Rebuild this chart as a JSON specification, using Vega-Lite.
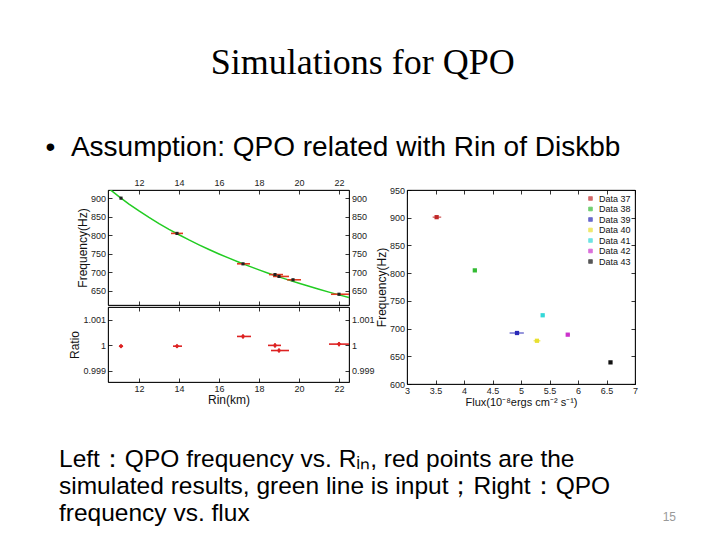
{
  "$schema": "https://vega.github.io/schema/vega-lite/v6.json",
  "background": "white",
  "padding": {"left": 45, "top": 45, "right": 0, "bottom": 0},
  "config": {
    "font": "Liberation Sans",
    "view": {"stroke": "black", "strokeWidth": 0.8},
    "axis": {"grid": false, "domainColor": "black", "domainWidth": 0.8, "tickColor": "black", "tickSize": -4, "tickWidth": 0.8, "labelFontSize": 9, "labelColor": "#222", "labelPadding": 6.5, "titleFontSize": 12, "titleFontWeight": "normal", "titleColor": "#111", "titlePadding": 1, "labelFlush": false, "labelOverlap": false},
    "legend": {"orient": "top-right", "offset": 4, "padding": 0, "labelFontSize": 9, "labelColor": "#111", "symbolSize": 14, "symbolStrokeWidth": 0.8, "rowPadding": 0.5, "title": null, "symbolType": "square"}
  },
  "title": {"text": "Simulations for QPO", "font": "Liberation Serif", "fontSize": 36, "fontWeight": "normal", "color": "black", "anchor": "middle", "offset": 52, "dx": -21},
  "spacing": 39,
  "resolve": {"scale": {"color": "independent"}, "legend": {"color": "independent"}},
  "vconcat": [
    {
      "title": {"text": "•\u00a0\u00a0Assumption: QPO related with Rin of Diskbb", "font": "Liberation Sans", "fontSize": 28, "fontWeight": "normal", "color": "black", "anchor": "start", "dx": -23, "offset": 16},
      "spacing": 0,
      "resolve": {"scale": {"color": "independent"}, "legend": {"color": "independent"}},
      "hconcat": [
        {
          "spacing": 0,
          "vconcat": [
            {
              "width": 241, "height": 115,
              "layer": [
                {
                  "data": {"values": [
                    {"rin": 10.45, "freq": 927.6}, {"rin": 11, "freq": 904.1}, {"rin": 11.5, "freq": 884.2}, {"rin": 12, "freq": 865.6},
                    {"rin": 12.5, "freq": 848.1}, {"rin": 13, "freq": 831.6}, {"rin": 13.5, "freq": 816.1}, {"rin": 14, "freq": 801.4},
                    {"rin": 14.5, "freq": 787.4}, {"rin": 15, "freq": 774.2}, {"rin": 15.5, "freq": 761.6}, {"rin": 16, "freq": 749.6},
                    {"rin": 16.5, "freq": 738.2}, {"rin": 17, "freq": 727.3}, {"rin": 17.5, "freq": 716.8}, {"rin": 18, "freq": 706.8},
                    {"rin": 18.5, "freq": 697.1}, {"rin": 19, "freq": 687.9}, {"rin": 19.5, "freq": 679.0}, {"rin": 20, "freq": 670.5},
                    {"rin": 20.5, "freq": 662.3}, {"rin": 21, "freq": 654.3}, {"rin": 21.5, "freq": 646.7}, {"rin": 22, "freq": 639.3},
                    {"rin": 22.5, "freq": 632.1}
                  ]},
                  "mark": {"type": "line", "color": "#22cc22", "strokeWidth": 1.5, "clip": true},
                  "encoding": {
                    "x": {"field": "rin", "type": "quantitative", "scale": {"domain": [10.45, 22.5], "nice": false, "zero": false}, "axis": {"orient": "top", "values": [12, 14, 16, 18, 20, 22], "title": null}},
                    "y": {"field": "freq", "type": "quantitative", "scale": {"domain": [612, 922], "nice": false, "zero": false}, "axis": {"orient": "left", "values": [650, 700, 750, 800, 850, 900], "title": "Frequency(Hz)"}}
                  }
                },
                {
                  "data": {"name": "upper"},
                  "mark": {"type": "rule", "color": "#e03a20", "strokeWidth": 1.6},
                  "encoding": {
                    "x": {"field": "lo", "type": "quantitative", "axis": null},
                    "x2": {"field": "hi"},
                    "y": {"field": "freq", "type": "quantitative", "axis": null}
                  }
                },
                {
                  "data": {"name": "upper"},
                  "mark": {"type": "square", "color": "#222", "size": 10, "opacity": 1},
                  "encoding": {
                    "x": {"field": "rin", "type": "quantitative", "axis": {"orient": "bottom", "values": [12, 14, 16, 18, 20, 22], "labels": false, "title": null}},
                    "y": {"field": "freq", "type": "quantitative", "axis": {"orient": "right", "values": [650, 700, 750, 800, 850, 900], "title": null}}
                  }
                }
              ],
              "resolve": {"axis": {"x": "independent", "y": "independent"}}
            },
            {
              "width": 241, "height": 75,
              "layer": [
                {
                  "data": {"name": "ratio"},
                  "mark": {"type": "rule", "color": "#dd2222", "strokeWidth": 1.6},
                  "encoding": {
                    "x": {"field": "lo", "type": "quantitative", "scale": {"domain": [10.45, 22.5], "nice": false, "zero": false}, "axis": {"orient": "bottom", "values": [12, 14, 16, 18, 20, 22], "title": "Rin(km)"}},
                    "x2": {"field": "hi"},
                    "y": {"field": "ratio", "type": "quantitative", "scale": {"domain": [0.99857, 1.0015], "nice": false, "zero": false}, "axis": {"orient": "left", "values": [0.999, 1, 1.001], "format": "~g", "title": "Ratio"}}
                  }
                },
                {
                  "data": {"name": "ratio"},
                  "mark": {"type": "rule", "color": "#dd2222", "strokeWidth": 1.6},
                  "encoding": {
                    "x": {"field": "rin", "type": "quantitative", "axis": {"orient": "top", "values": [12, 14, 16, 18, 20, 22], "labels": false, "title": null}},
                    "y": {"field": "ylo", "type": "quantitative", "axis": {"orient": "right", "values": [0.999, 1, 1.001], "format": "~g", "title": null}},
                    "y2": {"field": "yhi"}
                  }
                },
                {
                  "data": {"name": "ratio"},
                  "mark": {"type": "point", "shape": "diamond", "filled": true, "color": "#dd2222", "size": 22, "opacity": 1},
                  "encoding": {
                    "x": {"field": "rin", "type": "quantitative", "axis": null},
                    "y": {"field": "ratio", "type": "quantitative", "axis": null}
                  }
                }
              ],
              "resolve": {"axis": {"x": "independent", "y": "independent"}}
            }
          ]
        },
        {
          "width": 228, "height": 194,
          "layer": [
            {
              "data": {"name": "flux"},
              "mark": {"type": "rule", "strokeWidth": 1.4, "opacity": 0.7},
              "encoding": {
                "x": {"field": "lo", "type": "quantitative", "scale": {"domain": [3, 7], "nice": false, "zero": false}, "axis": {"orient": "bottom", "values": [3, 3.5, 4, 4.5, 5, 5.5, 6, 6.5, 7], "format": "~g", "title": "Flux(10⁻⁸ergs cm⁻² s⁻¹)", "titleFontSize": 11}},
                "x2": {"field": "hi"},
                "y": {"field": "freq", "type": "quantitative", "scale": {"domain": [600, 950], "nice": false, "zero": false}, "axis": {"orient": "left", "values": [600, 650, 700, 750, 800, 850, 900, 950], "title": "Frequency(Hz)"}},
                "color": {"field": "series", "type": "nominal", "scale": {"domain": ["Data 37", "Data 38", "Data 39", "Data 40", "Data 41", "Data 42", "Data 43"], "range": ["#c02828", "#33bb33", "#2a2ab8", "#e8e030", "#33d8d8", "#cc33cc", "#111111"]}}
              }
            },
            {
              "data": {"name": "flux"},
              "mark": {"type": "point", "shape": "square", "filled": true, "size": 18, "opacity": 1},
              "encoding": {
                "x": {"field": "flux", "type": "quantitative", "axis": {"orient": "top", "values": [3, 3.5, 4, 4.5, 5, 5.5, 6, 6.5, 7], "labels": false, "title": null}},
                "y": {"field": "freq", "type": "quantitative", "axis": {"orient": "right", "values": [600, 650, 700, 750, 800, 850, 900, 950], "labels": false, "title": null}},
                "color": {"field": "series", "type": "nominal", "legend": {"symbolFillColor": "transparent", "symbolOpacity": 0.6}}
              }
            }
          ],
          "resolve": {"axis": {"x": "independent", "y": "independent"}}
        }
      ]
    },
    {
      "width": 614, "height": 54,
      "view": {"stroke": null},
      "layer": [
        {
          "data": {"values": [
            {"line": 1, "text": "Left：QPO  frequency vs. Rᵢₙ, red points are the"},
            {"line": 2, "text": "simulated results,  green line is input；Right：QPO"},
            {"line": 3, "text": "frequency  vs. flux"}
          ]},
          "mark": {"type": "text", "align": "left", "baseline": "alphabetic", "fontSize": 24.5, "font": "Liberation Sans", "color": "black", "dx": -49},
          "encoding": {
            "x": {"datum": 0, "type": "quantitative", "scale": {"domain": [0, 1], "nice": false}, "axis": null},
            "y": {"field": "line", "type": "ordinal", "scale": {"type": "point", "padding": 0, "domain": [1, 2, 3]}, "axis": null},
            "text": {"field": "text"}
          }
        },
        {
          "data": {"values": [{"text": "15"}]},
          "mark": {"type": "text", "align": "right", "baseline": "alphabetic", "fontSize": 12, "color": "#999", "dx": -46},
          "encoding": {
            "x": {"datum": 1, "type": "quantitative", "axis": null},
            "y": {"datum": 3, "type": "ordinal", "axis": null},
            "text": {"field": "text"}
          }
        }
      ]
    }
  ],
  "datasets": {
    "upper": [
      {"rin": 11.1, "freq": 900, "lo": 11.05, "hi": 11.15},
      {"rin": 13.9, "freq": 805, "lo": 13.6, "hi": 14.2},
      {"rin": 17.2, "freq": 723, "lo": 16.9, "hi": 17.55},
      {"rin": 18.8, "freq": 694, "lo": 18.5, "hi": 19.2},
      {"rin": 19.0, "freq": 689, "lo": 18.7, "hi": 19.5},
      {"rin": 19.7, "freq": 680, "lo": 19.4, "hi": 20.1},
      {"rin": 22.0, "freq": 641, "lo": 21.6, "hi": 22.5}
    ],
    "ratio": [
      {"rin": 11.1, "ratio": 0.99997, "lo": 11.0, "hi": 11.2, "ylo": 0.99991, "yhi": 1.00003},
      {"rin": 13.9, "ratio": 0.99997, "lo": 13.7, "hi": 14.15, "ylo": 0.99991, "yhi": 1.00003},
      {"rin": 17.2, "ratio": 1.00035, "lo": 16.9, "hi": 17.6, "ylo": 1.00027, "yhi": 1.00043},
      {"rin": 18.8, "ratio": 1.0, "lo": 18.45, "hi": 19.1, "ylo": 0.99992, "yhi": 1.00008},
      {"rin": 19.0, "ratio": 0.9998, "lo": 18.6, "hi": 19.5, "ylo": 0.99972, "yhi": 0.99988},
      {"rin": 22.0, "ratio": 1.00005, "lo": 21.5, "hi": 22.5, "ylo": 0.99997, "yhi": 1.00013}
    ],
    "flux": [
      {"series": "Data 37", "flux": 3.52, "freq": 901, "lo": 3.45, "hi": 3.6},
      {"series": "Data 38", "flux": 4.19, "freq": 805, "lo": 4.16, "hi": 4.22},
      {"series": "Data 39", "flux": 4.93, "freq": 692, "lo": 4.8, "hi": 5.05},
      {"series": "Data 40", "flux": 5.28, "freq": 678, "lo": 5.22, "hi": 5.34},
      {"series": "Data 41", "flux": 5.38, "freq": 724, "lo": 5.36, "hi": 5.41},
      {"series": "Data 42", "flux": 5.82, "freq": 689, "lo": 5.79, "hi": 5.86},
      {"series": "Data 43", "flux": 6.57, "freq": 639, "lo": 6.55, "hi": 6.59}
    ]
  }
}
